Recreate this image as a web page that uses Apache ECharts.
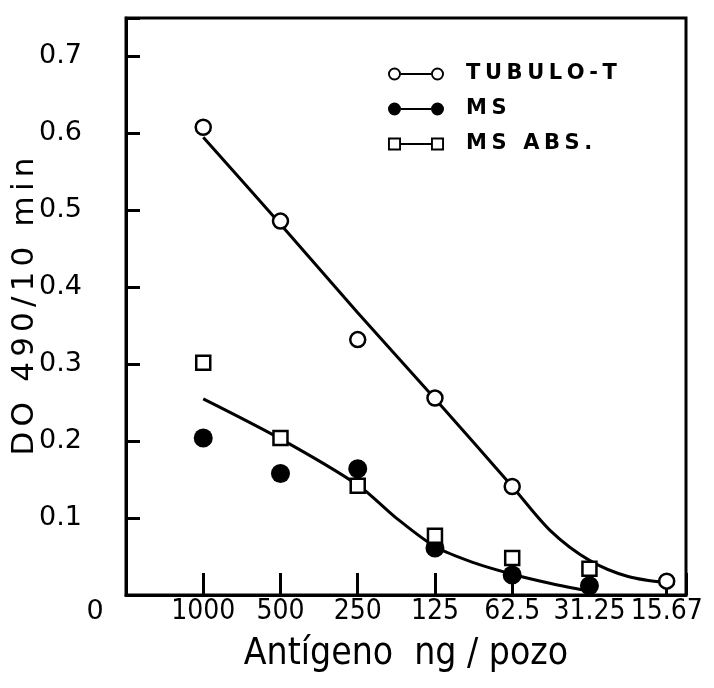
<!DOCTYPE html>
<html>
<head>
<meta charset="utf-8">
<script src="https://cdn.jsdelivr.net/npm/echarts@6/dist/echarts.min.js"></script>
<style>
  html, body { margin: 0; padding: 0; background: #fff; }
  #chart { width: 714px; height: 688px; }
</style>
</head>
<body>
<div id="chart"></div>
<script>
// Antigen dilutions (ng per well), left to right
const categories = ['1000', '500', '250', '125', '62.5', '31.25', '15.67'];

// Measured optical density (DO 490 / 10 min); null = no point at that dilution
const tubuloT = [0.608, 0.486, 0.332, 0.256, 0.141, null, 0.018];
const ms      = [0.204, 0.158, 0.164, 0.061, 0.026, 0.012, null];
const msAbs   = [0.302, 0.204, 0.142, 0.077, 0.048, 0.034, null];

// Hand-drawn fitted curves, read along the dilution index (1 = 1000 ng)
const fitTubuloAt = [1, 2, 3, 4, 5, 5.5, 6, 6.5, 7];
const fitTubulo   = [0.595, 0.482, 0.367, 0.255, 0.141, 0.083, 0.045, 0.024, 0.016];
const fitMsAt     = [1, 2, 3, 3.5, 4, 4.5, 5, 5.5, 6];
const fitMs       = [0.255, 0.203, 0.143, 0.100, 0.063, 0.042, 0.027, 0.015, 0.005];

const yTicks = [0.1, 0.2, 0.3, 0.4, 0.5, 0.6, 0.7];

const yTitle = 'DO 490/10 min';
const xTitle = 'Antígeno  ng / pozo';
const FONT = '"DejaVu Sans", sans-serif';
const FONT_C = '"DejaVu Sans Condensed", "DejaVu Sans", sans-serif';

function toPoints(arr) {
  const out = [];
  arr.forEach((v, i) => { if (v !== null) out.push([i + 1, v]); });
  return out;
}
function pairUp(xs, ys) {
  return xs.map((x, i) => [x, ys[i]]);
}

// letter-spaced rich text: every character in its own padded fragment
function spaced(s, first, rest) {
  return s.split('').map((c, i) => '{' + (i === 0 ? first : rest) + '|' + c + '}').join('');
}

// legend glyphs: marker — line — marker
const ICON_RING = 'path://M0,6.5A6.5,6.5 0 1,1 13,6.5A6.5,6.5 0 1,1 0,6.5Z M1.9,6.5A4.6,4.6 0 1,0 11.1,6.5A4.6,4.6 0 1,0 1.9,6.5Z M13,5.6H43V7.4H13Z M43,6.5A6.5,6.5 0 1,1 56,6.5A6.5,6.5 0 1,1 43,6.5Z M44.9,6.5A4.6,4.6 0 1,0 54.1,6.5A4.6,4.6 0 1,0 44.9,6.5Z';
const ICON_DOT = 'path://M0,6.5A6.5,6.5 0 1,1 13,6.5A6.5,6.5 0 1,1 0,6.5Z M13,5.6H43V7.4H13Z M43,6.5A6.5,6.5 0 1,1 56,6.5A6.5,6.5 0 1,1 43,6.5Z';
const ICON_SQ = 'path://M0,0H13V13H0Z M1.9,1.9V11.1H11.1V1.9Z M13,5.6H43V7.4H13Z M43,0H56V13H43Z M44.9,1.9V11.1H54.1V1.9Z';

const chart = echarts.init(document.getElementById('chart'));

const legendRich = {
  f: { fontFamily: FONT, fontWeight: 'bold', fontSize: 21, color: '#000', padding: [0, 2.3, 0, 17] },
  s: { fontFamily: FONT, fontWeight: 'bold', fontSize: 21, color: '#000', padding: [0, 2.3, 0, 2.3] }
};
const yNameRich = {
  n: { fontFamily: FONT, fontSize: 31, color: '#000', padding: [0, 2.6, 0, 2.6] }
};

chart.setOption({
  backgroundColor: '#fff',
  animation: false,
  grid: {
    left: 126, top: 18, right: 28, bottom: 93,
    outerBoundsMode: 'none',
    containLabel: false,
    show: true, borderColor: '#000', borderWidth: 3
  },
  legend: {
    orient: 'vertical',
    left: 388, top: 63,
    padding: 0,
    itemWidth: 56, itemHeight: 13, itemGap: 13,
    formatter: name => spaced(name, 'f', 's'),
    textStyle: {
      color: '#000', fontFamily: FONT, fontWeight: 'bold', fontSize: 21, lineHeight: 22,
      rich: legendRich
    },
    data: [
      { name: 'TUBULO-T', icon: ICON_RING, itemStyle: { color: '#000', borderWidth: 0 } },
      { name: 'MS', icon: ICON_DOT, itemStyle: { color: '#000', borderWidth: 0 } },
      { name: 'MS ABS.', icon: ICON_SQ, itemStyle: { color: '#000', borderWidth: 0 } }
    ]
  },
  xAxis: {
    type: 'value',
    min: 0, max: 7.25, interval: 1,
    name: xTitle,
    nameLocation: 'middle',
    nameGap: 41,
    nameMoveOverlap: false,
    nameTextStyle: { fontFamily: FONT_C, fontSize: 37, color: '#000' },
    axisLine: { show: true, lineStyle: { color: '#000', width: 3 } },
    axisTick: { show: true, inside: true, length: 22, lineStyle: { color: '#000', width: 3 } },
    splitLine: { show: false },
    axisLabel: {
      margin: 3,
      color: '#000', fontFamily: FONT_C, fontSize: 28,
      formatter: v => {
        if (Math.abs(v - Math.round(v)) > 1e-6) return '';
        const i = Math.round(v);
        if (i === 0) return '{z|0}';
        return categories[i - 1] || '';
      },
      rich: { z: { fontFamily: FONT, fontSize: 27, color: '#000', padding: [0, 62, 0, 0] } }
    }
  },
  yAxis: {
    type: 'value',
    min: 0, max: 0.75, interval: 0.1,
    name: spaced(yTitle, 'n', 'n'),
    nameLocation: 'middle',
    nameGap: 86,
    nameMoveOverlap: false,
    nameTextStyle: { fontFamily: FONT, fontSize: 31, color: '#000', rich: yNameRich },
    axisLine: { show: true, lineStyle: { color: '#000', width: 3 } },
    axisTick: { show: true, inside: true, length: 14, lineStyle: { color: '#000', width: 3 } },
    splitLine: { show: false },
    axisLabel: {
      margin: 44,
      color: '#000', fontFamily: FONT, fontSize: 27,
      formatter: v => {
        const t = yTicks.find(k => Math.abs(k - v) < 1e-6);
        return t === undefined ? '' : t.toFixed(1);
      }
    }
  },
  series: [
    {
      name: 'fitTubulo', type: 'line', smooth: 0.3, showSymbol: false, silent: true,
      data: pairUp(fitTubuloAt, fitTubulo), lineStyle: { color: '#000', width: 3 }, z: 2
    },
    {
      name: 'fitMs', type: 'line', smooth: 0.3, showSymbol: false, silent: true,
      data: pairUp(fitMsAt, fitMs), lineStyle: { color: '#000', width: 3 }, z: 2
    },
    {
      name: 'TUBULO-T', type: 'scatter', symbol: 'circle', symbolSize: 15,
      data: toPoints(tubuloT),
      itemStyle: { color: '#fff', borderColor: '#000', borderWidth: 2.5, opacity: 1 }, z: 3
    },
    {
      name: 'MS', type: 'scatter', symbol: 'circle', symbolSize: 19,
      data: toPoints(ms),
      itemStyle: { color: '#000', borderColor: '#000', borderWidth: 0, opacity: 1 }, z: 3
    },
    {
      name: 'MS ABS.', type: 'scatter', symbol: 'rect', symbolSize: 14,
      data: toPoints(msAbs),
      itemStyle: { color: '#fff', borderColor: '#000', borderWidth: 2.5, opacity: 1 }, z: 4
    }
  ]
});
</script>
</body>
</html>
